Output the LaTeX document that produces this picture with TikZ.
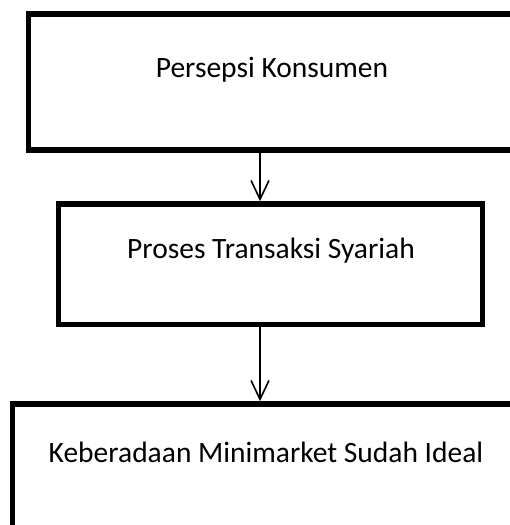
\documentclass[tikz,border=0pt]{standalone}
\usepackage{fontspec}
\setmainfont{Carlito}
\usetikzlibrary{arrows.meta}
\begin{document}
\begin{tikzpicture}[x=1pt,y=-1pt,
  box/.style={draw=black, line width=5.5pt, rectangle, inner sep=0pt, fill=none},
  lbl/.style={font=\fontsize{29.5}{34}\selectfont, inner sep=0pt, anchor=base},
  arr/.style={line width=1.6pt, -{Straight Barb[length=19pt,width=18pt,line width=1.6pt]}}]
\useasboundingbox (0,0) rectangle (510,525);
\clip (0,0) rectangle (510,525);
\node[box, minimum width=520pt, minimum height=136pt] (b1) at (288.5,82) {};
\node[box, minimum width=424pt, minimum height=120.5pt] (b2) at (270.5,264.25) {};
\node[box, minimum width=540pt, minimum height=170pt] (b3) at (282.5,489) {};
\node[lbl] (t1) at (272,77) {Persepsi Konsumen};
\node[lbl] (t2) at (271,258) {Proses Transaksi Syariah};
\node[lbl] (t3) at (266,462) {Keberadaan Minimarket Sudah Ideal};
\coordinate (ax) at (260,0);
\draw[arr] (b1.south -| ax) -- (b2.north -| ax);
\draw[arr] (b2.south -| ax) -- (b3.north -| ax);
\end{tikzpicture}
\end{document}
